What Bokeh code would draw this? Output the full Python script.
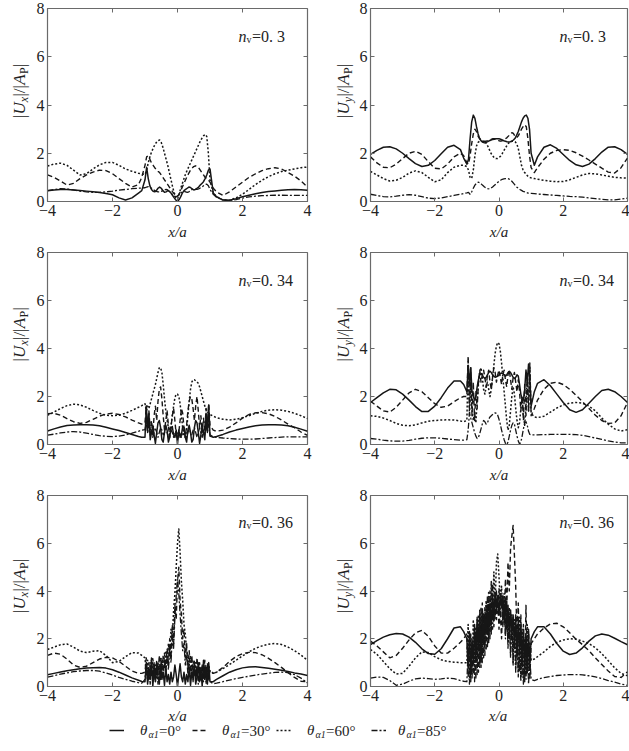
import math
from bokeh.plotting import figure
from bokeh.models import (Label, LinearAxis, FixedTicker, Range1d,
                          CustomJSTickFormatter, Legend, LegendItem)
from bokeh.layouts import column, row
from bokeh.embed import file_html
from bokeh.resources import INLINE

# ---------------------------------------------------------------- data
X_OUT_L = [-4.0, -3.8, -3.6, -3.4, -3.2, -3.0, -2.8, -2.6, -2.4, -2.2, -2.0, -1.8, -1.6, -1.4, -1.2, -1.1]
X_OUT_R = [1.1, 1.2, 1.4, 1.6, 1.8, 2.0, 2.2, 2.4, 2.6, 2.8, 3.0, 3.2, 3.4, 3.6, 3.8, 4.0]
X_IN_05 = [round(-1.0 + 0.05 * i, 2) for i in range(41)]
X_IN_04 = [round(-1.0 + 0.04 * i, 2) for i in range(51)]
X_ROW1 = X_OUT_L + X_IN_05 + X_OUT_R
X_ROW23 = X_OUT_L + X_IN_04 + X_OUT_R

ANGLES = [0, 30, 60, 85]
X_TICKS = [-4, -2, 0, 2, 4]
Y_TICKS = [0, 2, 4, 6, 8]
X_TICK_LABELS = {-4: "\u22124", -2: "\u22122"}
NV_LABELS = ["0. 3", "0. 3", "0. 34", "0. 34", "0. 36", "0. 36"]
COMPONENTS = ["x", "y", "x", "y", "x", "y"]

# ---- panel 1 : |Ux|, nv = 0.3
P1_T0 = ([0.45, 0.48, 0.5, 0.5, 0.48, 0.46, 0.43, 0.4, 0.37, 0.33, 0.28, 0.15, 0.06, 0.15, 0.35, 0.45]
         + [0.9, 1.42, 0.95, 0.65, 0.5, 0.42, 0.4, 0.45, 0.55, 0.6,
            0.55, 0.45, 0.38, 0.4, 0.45, 0.42, 0.35, 0.25, 0.15, 0.06,
            0.0,
            0.08, 0.2, 0.35, 0.45, 0.5, 0.55, 0.6, 0.58, 0.52, 0.48,
            0.5, 0.55, 0.6, 0.68, 0.75, 0.82, 0.95, 1.1, 1.3, 1.35]
         + [0.35, 0.2, 0.06, 0.05, 0.12, 0.2, 0.26, 0.32, 0.37, 0.41, 0.44, 0.47, 0.49, 0.5, 0.49, 0.47])
P1_T30 = ([1.1, 1.0, 0.85, 0.68, 0.75, 0.95, 1.1, 1.22, 1.3, 1.28, 1.15, 0.95, 0.75, 0.6, 0.7, 1.0]
          + [1.5, 1.85, 1.9, 1.75, 1.6, 1.5, 1.4, 1.32, 1.25, 1.2,
             1.1, 1.0, 0.9, 0.8, 0.7, 0.6, 0.5, 0.4, 0.32, 0.25,
             0.22,
             0.3, 0.45, 0.6, 0.75, 0.9, 1.05, 1.18, 1.3, 1.38, 1.45,
             1.48, 1.45, 1.4, 1.3, 1.2, 1.1, 1.0, 0.95, 0.9, 0.8]
          + [0.55, 0.4, 0.25, 0.4, 0.6, 0.8, 1.0, 1.15, 1.28, 1.36, 1.4, 1.35, 1.2, 1.05, 0.85, 0.6])
P1_T60 = ([1.47, 1.55, 1.59, 1.5, 1.3, 1.1, 1.15, 1.35, 1.52, 1.62, 1.62, 1.5, 1.35, 1.25, 1.17, 1.14]
          + [1.12, 1.3, 1.6, 1.85, 2.05, 2.2, 2.35, 2.45, 2.52, 2.55,
             2.45, 2.25, 2.0, 1.75, 1.5, 1.2, 0.9, 0.6, 0.35, 0.15,
             0.1,
             0.3, 0.55, 0.75, 0.95, 1.15, 1.3, 1.45, 1.6, 1.75, 1.9,
             2.05, 2.2, 2.35, 2.5, 2.62, 2.72, 2.78, 2.7, 2.0, 0.9]
          + [0.35, 0.2, 0.06, 0.05, 0.15, 0.3, 0.5, 0.7, 0.88, 1.03, 1.15, 1.24, 1.3, 1.35, 1.4, 1.43])
P1_T85 = ([0.45, 0.5, 0.53, 0.52, 0.48, 0.43, 0.4, 0.38, 0.38, 0.4, 0.43, 0.47, 0.5, 0.53, 0.55, 0.56]
          + [0.57, 0.6, 0.62, 0.6, 0.55, 0.5, 0.45, 0.42, 0.4, 0.4,
             0.42, 0.45, 0.48, 0.5, 0.48, 0.42, 0.35, 0.28, 0.22, 0.2,
             0.22,
             0.28, 0.35, 0.4, 0.42, 0.4, 0.38, 0.4, 0.45, 0.5, 0.52,
             0.5, 0.5, 0.52, 0.56, 0.6, 0.65, 0.7, 0.72, 0.65, 0.5]
          + [0.3, 0.18, 0.07, 0.04, 0.08, 0.14, 0.19, 0.22, 0.24, 0.25, 0.26, 0.26, 0.25, 0.25, 0.25, 0.25])

# ---- panel 2 : |Uy|, nv = 0.3
P2_T0 = ([1.95, 2.12, 2.25, 2.27, 2.18, 2.0, 1.78, 1.57, 1.45, 1.5, 1.7, 1.98, 2.25, 2.33, 2.15, 1.8]
         + [1.55, 1.75, 2.6, 3.3, 3.58, 3.45, 3.1, 2.8, 2.6, 2.5,
            2.45, 2.43, 2.45, 2.48, 2.52, 2.55, 2.57, 2.58, 2.6, 2.6,
            2.6,
            2.58, 2.55, 2.52, 2.5, 2.48, 2.47, 2.48, 2.5, 2.55, 2.62,
            2.75, 2.9, 3.1, 3.3, 3.45, 3.55, 3.58, 3.45, 3.0, 2.0]
         + [1.5, 1.85, 2.25, 2.35, 2.2, 1.95, 1.7, 1.52, 1.45, 1.55, 1.78, 2.05, 2.25, 2.27, 2.15, 1.95])
P2_T30 = ([1.85, 1.6, 1.42, 1.4, 1.55, 1.78, 2.0, 2.08, 1.95, 1.65, 1.38, 1.35, 1.55, 1.85, 2.0, 1.9]
          + [1.6, 1.55, 1.9, 2.4, 2.8, 3.0, 2.9, 2.7, 2.6, 2.55,
             2.5, 2.5, 2.5, 2.52, 2.55, 2.57, 2.6, 2.6, 2.58, 2.55,
             2.52,
             2.5, 2.52, 2.55, 2.6, 2.65, 2.72, 2.8, 2.85, 2.82, 2.7,
             2.65, 2.72, 2.85, 3.0, 3.1, 3.18, 3.1, 2.6, 1.9, 1.4]
          + [1.2, 1.4, 1.75, 2.0, 2.12, 2.15, 2.12, 2.02, 1.88, 1.72, 1.55, 1.38, 1.22, 1.18, 1.4, 1.8])
P2_T60 = ([1.25, 1.1, 0.95, 0.85, 0.88, 1.0, 1.18, 1.27, 1.2, 1.0, 0.82, 0.9, 1.2, 1.42, 1.5, 1.5]
          + [1.45, 1.3, 1.0, 0.95, 1.3, 1.9, 2.3, 2.45, 2.5, 2.5,
             2.5, 2.48, 2.42, 2.3, 2.15, 2.0, 1.9, 1.82, 1.78, 1.78,
             1.82,
             1.88, 1.98, 2.1, 2.22, 2.33, 2.42, 2.48, 2.5, 2.5, 2.48,
             2.4, 2.2, 1.85, 1.5, 1.3, 1.2, 1.12, 1.05, 1.0, 0.98]
          + [0.95, 0.92, 0.88, 0.84, 0.82, 0.83, 0.9, 1.0, 1.1, 1.16, 1.15, 1.1, 1.05, 1.0, 0.98, 0.97])
P2_T85 = ([0.3, 0.25, 0.2, 0.19, 0.22, 0.26, 0.28, 0.26, 0.2, 0.14, 0.12, 0.15, 0.2, 0.25, 0.3, 0.33]
          + [0.36, 0.38, 0.3, 0.4, 0.55, 0.68, 0.76, 0.8, 0.78, 0.72,
             0.66, 0.6, 0.56, 0.53, 0.52, 0.55, 0.6, 0.66, 0.72, 0.78,
             0.84,
             0.88, 0.92, 0.94, 0.95, 0.95, 0.94, 0.9, 0.84, 0.76, 0.68,
             0.6, 0.55, 0.5, 0.46, 0.42, 0.4, 0.37, 0.35, 0.34, 0.34]
          + [0.33, 0.31, 0.29, 0.27, 0.25, 0.23, 0.21, 0.2, 0.18, 0.15, 0.12, 0.09, 0.07, 0.07, 0.1, 0.14])

# ---- panel 3 : |Ux|, nv = 0.34
P3_T0 = ([0.56, 0.65, 0.73, 0.79, 0.81, 0.82, 0.82, 0.81, 0.78, 0.72, 0.65, 0.58, 0.5, 0.42, 0.33, 0.3]
         + [0.3, 1.6, 0.6, 1.3, 0.2, 0.5, 0.8, 0.4, 0.05, 0.5,
            0.9, 1.0, 0.7, 0.2, 0.1, 0.5, 0.8, 0.6, 0.1, 0.3,
            0.7, 0.75, 0.4, 0.3, 0.6,
            0.0,
            0.6, 0.3, 0.4, 0.75, 0.7, 0.3, 0.1, 0.6, 0.8, 0.5,
            0.1, 0.2, 0.7, 1.0, 0.9, 0.5, 0.05, 0.4, 0.8, 0.5,
            0.2, 1.3, 0.6, 1.65, 0.35]
         + [0.3, 0.33, 0.42, 0.52, 0.6, 0.67, 0.73, 0.78, 0.81, 0.82, 0.82, 0.81, 0.78, 0.72, 0.64, 0.55])
P3_T30 = ([1.28, 1.3, 1.22, 1.08, 0.95, 0.88, 0.92, 1.05, 1.18, 1.27, 1.3, 1.25, 1.15, 1.02, 0.9, 0.85]
          + [0.9, 1.6, 0.5, 1.4, 0.6, 1.0, 0.4, 1.2, 1.6, 1.0,
             1.8, 2.3, 2.4, 1.9, 1.2, 0.6, 1.0, 1.4, 0.8, 0.3,
             0.7, 1.2, 1.5, 1.0, 0.4,
             0.2,
             0.5, 1.0, 1.5, 1.3, 0.7, 0.3, 0.8, 1.4, 1.8, 2.0,
             1.9, 1.5, 1.0, 1.6, 2.0, 1.4, 0.7, 1.2, 0.5, 1.1,
             0.6, 1.5, 0.5, 1.7, 0.8]
          + [0.6, 0.55, 0.6, 0.72, 0.9, 1.1, 1.25, 1.32, 1.33, 1.28, 1.17, 1.02, 0.85, 0.7, 0.52, 0.38])
P3_T60 = ([1.22, 1.35, 1.5, 1.62, 1.68, 1.65, 1.55, 1.42, 1.3, 1.22, 1.2, 1.22, 1.3, 1.42, 1.55, 1.62]
          + [1.7, 1.4, 1.6, 1.5, 1.7, 1.9, 2.1, 2.3, 2.5, 2.75,
             3.0, 3.2, 3.2, 3.0, 2.5, 1.9, 1.4, 1.0, 0.7, 0.6,
             0.8, 1.2, 1.6, 1.95, 2.1,
             2.1,
             2.0, 1.7, 1.2, 0.7, 0.35, 0.3, 0.6, 1.2, 1.8, 2.3,
             2.6, 2.7, 2.7, 2.65, 2.6, 2.55, 2.4, 2.2, 2.0, 1.8,
             1.6, 1.45, 1.35, 1.3, 1.25]
          + [1.18, 1.12, 1.05, 1.02, 1.05, 1.12, 1.2, 1.3, 1.38, 1.43, 1.45, 1.43, 1.38, 1.3, 1.2, 1.08])
P3_T85 = ([0.39, 0.43, 0.48, 0.52, 0.54, 0.52, 0.47, 0.42, 0.37, 0.34, 0.33, 0.35, 0.4, 0.47, 0.55, 0.6]
          + [0.62, 0.9, 0.5, 0.8, 0.4, 0.6, 0.3, 0.5, 0.7, 0.5,
             0.3, 0.5, 0.7, 0.6, 0.4, 0.5, 0.65, 0.5, 0.3, 0.45,
             0.6, 0.5, 0.3, 0.45, 0.55,
             0.4,
             0.55, 0.45, 0.3, 0.5, 0.6, 0.45, 0.3, 0.5, 0.65, 0.5,
             0.4, 0.6, 0.7, 0.5, 0.3, 0.5, 0.7, 0.5, 0.3, 0.6,
             0.4, 0.8, 0.5, 0.85, 0.4]
          + [0.32, 0.3, 0.27, 0.25, 0.23, 0.22, 0.22, 0.23, 0.25, 0.27, 0.29, 0.31, 0.32, 0.32, 0.32, 0.32])

# ---- panel 4 : |Uy|, nv = 0.34
P4_T0 = ([1.75, 1.95, 2.15, 2.3, 2.28, 2.1, 1.85, 1.58, 1.37, 1.38, 1.6, 1.95, 2.35, 2.65, 2.65, 2.5]
         + [2.2, 3.3, 2.5, 3.2, 2.2, 2.0, 1.85, 2.0, 2.4, 2.7,
            2.9, 2.95, 2.9, 2.8, 2.75, 2.8, 2.9, 3.0, 3.05, 3.0,
            2.9, 2.85, 2.8, 2.82, 2.85,
            2.9,
            2.95, 2.98, 2.95, 2.9, 2.85, 2.9, 3.0, 3.05, 3.0, 2.9,
            2.8, 2.75, 2.8, 2.9, 2.85, 2.5, 2.1, 1.9, 1.85, 2.3,
            3.1, 2.6, 3.35, 2.7, 1.6]
         + [2.2, 2.55, 2.7, 2.45, 2.1, 1.75, 1.45, 1.34, 1.45, 1.72, 2.0, 2.25, 2.3, 2.2, 2.0, 1.75])
P4_T30 = ([1.8, 1.6, 1.4, 1.35, 1.55, 1.85, 2.15, 2.3, 2.2, 1.95, 1.7, 1.55, 1.6, 1.78, 1.95, 2.0]
          + [2.0, 3.7, 1.5, 3.2, 1.2, 2.6, 1.0, 2.2, 1.5, 2.6,
             3.1, 2.6, 2.9, 3.1, 2.8, 2.4, 2.9, 3.1, 2.6, 2.3,
             2.8, 3.2, 3.0, 2.6, 2.9,
             3.1,
             2.8, 2.5, 2.9, 3.1, 2.7, 2.4, 2.9, 3.1, 2.7, 2.3,
             2.8, 3.0, 2.6, 2.2, 2.7, 2.2, 1.4, 2.0, 1.0, 2.5,
             1.2, 3.0, 1.4, 3.4, 1.2]
          + [1.5, 1.85, 2.3, 2.55, 2.6, 2.5, 2.3, 2.05, 1.78, 1.5, 1.22, 1.0, 0.88, 0.9, 1.2, 1.75])
P4_T60 = ([1.2, 1.17, 1.1, 1.0, 0.88, 0.8, 0.78, 0.82, 0.9, 0.97, 1.0, 1.02, 1.03, 1.02, 0.98, 0.95]
          + [1.0, 3.5, 1.2, 2.6, 1.4, 1.0, 1.3, 0.9, 1.8, 2.5,
             3.0, 3.2, 2.8, 2.3, 2.1, 2.4, 2.6, 2.3, 2.0, 2.3,
             2.8, 3.3, 3.8, 4.1, 4.25,
             4.2,
             3.9, 3.4, 2.8, 2.2, 1.6, 1.0, 0.6, 0.8, 1.4, 2.0,
             2.4, 2.1, 1.5, 1.0, 0.7, 0.9, 1.5, 1.9, 1.2, 0.8,
             1.6, 2.8, 1.4, 3.2, 1.3]
          + [1.15, 1.12, 1.18, 1.35, 1.52, 1.65, 1.72, 1.75, 1.72, 1.6, 1.4, 1.1, 0.85, 0.65, 0.56, 0.62])
P4_T85 = ([0.25, 0.22, 0.18, 0.15, 0.14, 0.14, 0.17, 0.22, 0.26, 0.28, 0.28, 0.26, 0.23, 0.2, 0.18, 0.18]
          + [0.2, 0.6, 1.3, 1.1, 0.9, 0.7, 0.5, 0.35, 0.25, 0.3,
             0.45, 0.65, 0.85, 1.0, 0.95, 0.85, 0.9, 1.05, 1.15, 1.2,
             1.25, 1.3, 1.32, 1.3, 1.22,
             1.05,
             0.85, 0.6, 0.4, 0.2, 0.05, 0.0, 0.1, 0.35, 0.6, 0.8,
             0.9, 0.85, 0.6, 0.35, 0.15, 0.02, 0.1, 0.35, 0.65, 0.9,
             0.95, 0.8, 0.55, 0.42, 0.4]
          + [0.4, 0.4, 0.41, 0.42, 0.42, 0.42, 0.42, 0.41, 0.38, 0.33, 0.27, 0.21, 0.15, 0.1, 0.07, 0.07])

# ---- panel 5 : |Ux|, nv = 0.36
P5_T0 = ([0.49, 0.55, 0.61, 0.66, 0.7, 0.74, 0.77, 0.79, 0.8, 0.77, 0.7, 0.6, 0.48, 0.36, 0.26, 0.21]
         + [0.2, 1.0, 0.1, 0.8, 0.3, 1.1, 0.0, 0.7, 0.2, 1.0,
            0.4, 0.1, 0.9, 0.3, 0.6, 0.05, 0.8, 0.2, 0.5, 0.1,
            0.6, 0.2, 0.4, 0.9, 0.5,
            0.0,
            0.5, 0.95, 0.4, 0.2, 0.6, 0.1, 0.5, 0.2, 0.8, 0.05,
            0.6, 0.3, 0.9, 0.1, 0.4, 1.0, 0.2, 0.7, 0.0, 1.1,
            0.3, 0.8, 0.1, 1.0, 0.2]
         + [0.2, 0.3, 0.45, 0.6, 0.7, 0.78, 0.82, 0.83, 0.8, 0.76, 0.72, 0.68, 0.63, 0.57, 0.52, 0.46])
P5_T30 = ([1.3, 1.4, 1.35, 1.15, 0.9, 0.8, 0.85, 1.0, 1.15, 1.22, 1.2, 1.05, 0.85, 0.65, 0.55, 0.55]
          + [0.6, 1.2, 0.3, 1.0, 0.4, 1.2, 0.2, 0.9, 0.3, 1.1,
             0.5, 1.3, 0.4, 1.2, 0.6, 1.4, 0.7, 1.6, 0.9, 2.0,
             1.2, 2.6, 1.8, 3.4, 2.8,
             4.4,
             5.0, 3.6, 3.0, 2.0, 2.4, 1.2, 1.8, 0.8, 1.5, 0.6,
             1.3, 0.4, 1.1, 0.3, 1.2, 0.5, 1.0, 0.2, 0.9, 0.4,
             1.1, 0.3, 1.0, 0.4, 0.7]
          + [0.55, 0.6, 0.8, 1.05, 1.25, 1.38, 1.43, 1.42, 1.33, 1.18, 1.0, 0.8, 0.58, 0.38, 0.22, 0.2])
P5_T60 = ([1.55, 1.65, 1.75, 1.78, 1.65, 1.48, 1.42, 1.48, 1.5, 1.3, 1.0, 1.05, 1.25, 1.42, 1.4, 1.3]
          + [1.2, 0.5, 1.1, 0.3, 1.0, 0.4, 1.2, 0.5, 0.9, 0.3,
             1.0, 0.6, 1.2, 0.7, 1.3, 0.8, 1.5, 1.0, 1.8, 1.3,
             2.4, 2.0, 3.2, 3.9, 5.0,
             6.0,
             6.6, 5.6, 4.4, 3.6, 2.6, 2.2, 1.5, 1.2, 0.9, 1.3,
             0.7, 1.1, 0.5, 1.0, 0.4, 0.9, 0.3, 0.8, 0.5, 0.9,
             0.3, 0.8, 0.4, 0.9, 0.6]
          + [0.55, 0.6, 0.75, 0.92, 1.1, 1.28, 1.45, 1.6, 1.7, 1.77, 1.8, 1.76, 1.65, 1.5, 1.32, 1.1])
P5_T85 = ([0.39, 0.45, 0.52, 0.57, 0.62, 0.65, 0.67, 0.67, 0.64, 0.57, 0.48, 0.38, 0.3, 0.22, 0.16, 0.14]
          + [0.3, 0.9, 0.2, 0.7, 0.1, 0.8, 0.3, 1.0, 0.2, 0.8,
             0.1, 0.7, 0.3, 0.9, 0.4, 1.1, 0.5, 1.3, 0.7, 1.6,
             1.0, 2.1, 1.6, 2.9, 3.8,
             4.5,
             3.9, 3.0, 2.2, 1.5, 1.8, 0.9, 1.3, 0.5, 1.0, 0.3,
             0.8, 0.2, 0.9, 0.3, 0.7, 0.1, 0.8, 0.3, 0.9, 0.2,
             0.7, 0.1, 0.8, 0.3, 0.2]
          + [0.12, 0.14, 0.2, 0.27, 0.33, 0.38, 0.43, 0.48, 0.52, 0.56, 0.59, 0.6, 0.58, 0.5, 0.35, 0.15])

# ---- panel 6 : |Uy|, nv = 0.36
P6_T0 = ([1.75, 1.92, 2.07, 2.17, 2.22, 2.2, 2.07, 1.85, 1.58, 1.38, 1.35, 1.58, 2.0, 2.45, 2.5, 2.3]
         + [2.0, 0.8, 2.3, 0.5, 2.0, 1.0, 2.6, 1.2, 2.8, 1.5,
            3.0, 1.0, 3.2, 1.8, 3.0, 2.2, 3.4, 2.0, 3.5, 2.6,
            3.7, 2.8, 3.9, 3.2, 3.8,
            3.0,
            3.9, 3.3, 3.8, 2.7, 3.6, 2.4, 3.4, 2.0, 3.2, 2.2,
            3.0, 1.6, 3.0, 1.2, 2.8, 1.5, 2.6, 1.0, 2.4, 0.8,
            2.2, 0.6, 2.3, 0.9, 2.0]
         + [2.3, 2.5, 2.5, 2.2, 1.8, 1.48, 1.34, 1.4, 1.62, 1.9, 2.12, 2.2, 2.15, 2.02, 1.88, 1.75])
P6_T30 = ([1.9, 1.7, 1.45, 1.2, 1.3, 1.6, 1.95, 2.25, 2.35, 2.1, 1.7, 1.4, 1.4, 1.6, 1.85, 2.0]
          + [2.2, 0.4, 2.0, 0.2, 1.8, 0.5, 2.4, 0.3, 2.9, 0.6,
             3.2, 0.8, 3.5, 1.2, 3.3, 1.5, 3.8, 1.8, 4.0, 2.2,
             4.3, 2.5, 4.0, 2.8, 3.6,
             2.4,
             3.2, 2.0, 3.8, 2.6, 4.5, 3.2, 5.2, 4.0, 5.8, 6.3,
             6.75, 5.5, 4.2, 2.0, 3.5, 0.6, 3.0, 0.4, 2.6, 0.2,
             3.4, 0.5, 2.4, 0.3, 1.8]
          + [2.0, 2.2, 2.45, 2.62, 2.65, 2.5, 2.25, 1.98, 1.75, 1.5, 1.2, 0.92, 0.65, 0.42, 0.38, 0.62])
P6_T60 = ([1.55, 1.35, 1.05, 0.75, 0.52, 0.55, 0.85, 1.2, 1.45, 1.42, 1.25, 1.12, 1.05, 1.02, 1.0, 1.0]
          + [1.0, 2.6, 0.4, 2.2, 0.6, 2.8, 0.8, 2.5, 1.0, 3.0,
             1.2, 3.3, 1.5, 3.0, 1.8, 3.6, 2.2, 4.0, 2.5, 4.4,
             3.0, 4.8, 3.5, 5.2, 5.55,
             4.6,
             3.6, 4.2, 2.8, 3.9, 2.2, 3.6, 1.8, 3.3, 1.4, 3.0,
             1.0, 2.8, 0.8, 2.5, 0.6, 2.9, 0.4, 2.4, 0.3, 2.0,
             0.5, 2.6, 0.7, 1.8, 1.1]
          + [1.15, 1.25, 1.45, 1.68, 1.85, 1.95, 2.0, 1.98, 1.9, 1.8, 1.62, 1.38, 1.08, 0.78, 0.55, 0.45])
P6_T85 = ([0.35, 0.4, 0.38, 0.25, 0.05, 0.1, 0.22, 0.32, 0.35, 0.33, 0.3, 0.32, 0.35, 0.33, 0.25, 0.22]
          + [0.2, 1.6, 0.1, 1.4, 0.3, 1.8, 0.2, 2.2, 0.5, 2.5,
             0.8, 2.8, 1.0, 3.1, 1.3, 3.4, 1.6, 3.7, 2.0, 3.9,
             2.4, 3.7, 2.8, 4.0, 3.3,
             4.1,
             3.0, 3.8, 2.5, 3.6, 2.0, 3.4, 1.6, 3.0, 1.2, 2.8,
             0.9, 2.5, 0.6, 2.2, 0.4, 1.9, 0.2, 1.6, 0.1, 1.3,
             0.3, 1.5, 0.1, 1.2, 0.3]
          + [0.25, 0.3, 0.37, 0.42, 0.46, 0.48, 0.5, 0.5, 0.49, 0.45, 0.4, 0.33, 0.25, 0.18, 0.1, 0.05])

PANEL_X = [X_ROW1, X_ROW1, X_ROW23, X_ROW23, X_ROW23, X_ROW23]
PANEL_CURVES = [
    [P1_T0, P1_T30, P1_T60, P1_T85],
    [P2_T0, P2_T30, P2_T60, P2_T85],
    [P3_T0, P3_T30, P3_T60, P3_T85],
    [P4_T0, P4_T30, P4_T60, P4_T85],
    [P5_T0, P5_T30, P5_T60, P5_T85],
    [P6_T0, P6_T30, P6_T60, P6_T85],
]
for k, (xs, cs) in enumerate(zip(PANEL_X, PANEL_CURVES)):
    for a, ys in zip(ANGLES, cs):
        if len(ys) != len(xs):
            raise ValueError(f"panel {k+1} angle {a}: {len(ys)} values vs {len(xs)} x")

# ---------------------------------------------------------------- style
FONT = "Liberation Serif"
INK = "#161616"
TEXT = "#222222"
FRAME = "#6a6a6a"
STYLE = {
    0: dict(line_dash="solid", line_width=1.5),
    30: dict(line_dash="5 3", line_width=1.4),
    60: dict(line_dash="2 2", line_width=1.5),
    85: dict(line_dash="6 2 2 2", line_width=1.3),
}
DRAW_ORDER = [85, 60, 30, 0]

# layout geometry (pixels)
ROW_DIMS = [(245, 8, 44), (242, 7, 43), (219, 8, 20)]   # height, top border, bottom border
STRIP_W = [33, 42]            # label strips left of each panel
PANEL_W = [281, 273]
PANEL_BORDER = [(14, 7), (12, 2)]   # (left, right)
YLABEL_BASE_X = [19, 29]
BOTTOM_H = 45


def blank_fig(w, h):
    f = figure(width=w, height=h, x_range=Range1d(0, w), y_range=Range1d(0, h),
               output_backend="svg", toolbar_location=None, min_border=0,
               x_axis_location=None, y_axis_location=None)
    f.grid.visible = False
    f.outline_line_color = None
    return f


def ylabel_strip(col, comp, h, b_bottom, b_top):
    w = STRIP_W[col]
    f = blank_fig(w, h)
    yc = b_bottom + (h - b_top - b_bottom) / 2.0
    pieces = [("|", "normal", 17, 0, 3.6), ("U", "italic", 17, 0, 12.4),
              (comp, "italic", 12, 4, 5.6), ("|/|", "normal", 17, 0, 11.8),
              ("A", "italic", 17, 0, 10.8), ("P", "normal", 12, 4, 7.0),
              ("|", "normal", 17, 0, 3.6)]
    total = sum(pc[4] for pc in pieces)
    off = -total / 2.0
    for txt, st, sz, sub, wd in pieces:
        f.add_layout(Label(x=YLABEL_BASE_X[col], y=yc, text=txt, angle=math.pi / 2,
                           text_align="left", text_baseline="alphabetic",
                           x_offset=sub, y_offset=off, text_font=FONT,
                           text_font_size=f"{sz}px", text_font_style=st,
                           text_color=TEXT))
        off += wd
    return f


def add_nv(p, val):
    x0, y0 = 1.88, 6.85
    p.add_layout(Label(x=x0, y=y0, text="n", text_font=FONT, text_font_size="16px",
                       text_font_style="italic", text_baseline="alphabetic",
                       text_align="left", text_color=TEXT))
    p.add_layout(Label(x=x0, y=y0, text="v", text_font=FONT, text_font_size="10px",
                       text_baseline="alphabetic", text_align="left",
                       x_offset=8, y_offset=-3, text_color=TEXT))
    p.add_layout(Label(x=x0, y=y0, text="=" + val, text_font=FONT, text_font_size="16px",
                       text_baseline="alphabetic", text_align="left",
                       x_offset=13.5, text_color=TEXT))


def make_panel(idx, height, b_top, b_bottom, with_xlabel):
    col = idx % 2
    bl, br = PANEL_BORDER[col]
    p = figure(width=PANEL_W[col], height=height,
               x_range=Range1d(-4, 4), y_range=Range1d(0, 8),
               output_backend="svg", toolbar_location=None,
               min_border_left=bl, min_border_right=br,
               min_border_top=b_top, min_border_bottom=b_bottom)
    p.grid.visible = False
    p.outline_line_color = FRAME
    p.outline_line_width = 1.2
    p.xaxis.ticker = FixedTicker(ticks=X_TICKS)
    p.yaxis.ticker = FixedTicker(ticks=Y_TICKS)
    p.xaxis.major_label_overrides = X_TICK_LABELS
    for ax in (p.xaxis[0], p.yaxis[0]):
        ax.major_tick_in = 4
        ax.major_tick_out = 0
        ax.minor_tick_in = 0
        ax.minor_tick_out = 0
        ax.axis_line_color = FRAME
        ax.major_tick_line_color = FRAME
        ax.major_label_text_font = FONT
        ax.major_label_text_font_size = "16px"
        ax.major_label_text_color = TEXT
    p.xaxis.major_label_standoff = 3
    p.yaxis.major_label_standoff = 3
    if with_xlabel:
        p.xaxis.axis_label = "x/a"
        p.xaxis.axis_label_text_font = FONT
        p.xaxis.axis_label_text_font_size = "15px"
        p.xaxis.axis_label_text_font_style = "italic"
        p.xaxis.axis_label_text_color = TEXT
        p.xaxis.axis_label_standoff = 5

    empty = CustomJSTickFormatter(code="return ''")
    for place, ticks in (("above", [-2, 0, 2]), ("right", [2, 4, 6])):
        ax = LinearAxis(ticker=FixedTicker(ticks=ticks), formatter=empty,
                        major_tick_in=4, major_tick_out=0, minor_tick_in=0,
                        minor_tick_out=0, axis_line_color=None,
                        major_tick_line_color=FRAME, major_label_text_font_size="1px",
                        major_label_standoff=0)
        p.add_layout(ax, place)

    xs = PANEL_X[idx]
    curves = dict(zip(ANGLES, PANEL_CURVES[idx]))
    for a in DRAW_ORDER:
        p.line(xs, curves[a], line_color=INK, line_join="round", **STYLE[a])
    add_nv(p, NV_LABELS[idx])
    return p


rows = []
for r in range(3):
    h, bt, bb = ROW_DIMS[r]
    items = []
    for c in range(2):
        idx = 2 * r + c
        items.append(ylabel_strip(c, COMPONENTS[idx], h, bb, bt))
        items.append(make_panel(idx, h, bt, bb, with_xlabel=(r < 2)))
    rows.append(row(*items))

# ---------------------------------------------------------------- bottom strip: x/a of last row + legend
bottom = blank_fig(629, BOTTOM_H)
XLABEL_CX = [47 + 130, 368 + 129.5]
for cx in XLABEL_CX:
    bottom.add_layout(Label(x=cx, y=36, text="x/a", text_font=FONT, text_font_size="15px",
                            text_font_style="italic", text_align="center",
                            text_baseline="middle", text_color=TEXT))

LEG_KEY_LEFT = [109, 192, 276, 371]
LEG_TEXT_LEFT = [140, 222, 307, 398]
LEG_ANGLE_TEXT = ["=0\u00b0", "=30\u00b0", "=60\u00b0", "=85\u00b0"]
LEG_YC = 21.0
NAN = float("nan")
for i, a in enumerate(ANGLES):
    r = bottom.line(x=[NAN, NAN], y=[NAN, NAN], line_color=INK, **STYLE[a])
    leg = Legend(items=[LegendItem(label="\u03b8", renderers=[r])],
                 location=(LEG_KEY_LEFT[i], LEG_YC - 8.5), orientation="horizontal",
                 glyph_width=15, glyph_height=14, label_height=14,
                 label_standoff=LEG_TEXT_LEFT[i] - LEG_KEY_LEFT[i] - 15,
                 padding=0, margin=0, spacing=0, border_line_alpha=0,
                 background_fill_alpha=0, label_text_font=FONT,
                 label_text_font_size="15px", label_text_font_style="italic",
                 label_text_color=TEXT, label_text_baseline="middle")
    bottom.add_layout(leg)
    tx = LEG_TEXT_LEFT[i]
    bottom.add_layout(Label(x=tx + 8, y=LEG_YC - 4, text="\u03b11", text_font=FONT,
                            text_font_size="10px", text_font_style="italic",
                            text_baseline="middle", text_align="left", text_color=TEXT))
    bottom.add_layout(Label(x=tx + 18.5, y=LEG_YC, text=LEG_ANGLE_TEXT[i], text_font=FONT,
                            text_font_size="15px", text_baseline="middle",
                            text_align="left", text_color=TEXT))

layout = column(*rows, bottom)

with open("out.html", "w") as f:
    f.write(file_html(layout, INLINE))
